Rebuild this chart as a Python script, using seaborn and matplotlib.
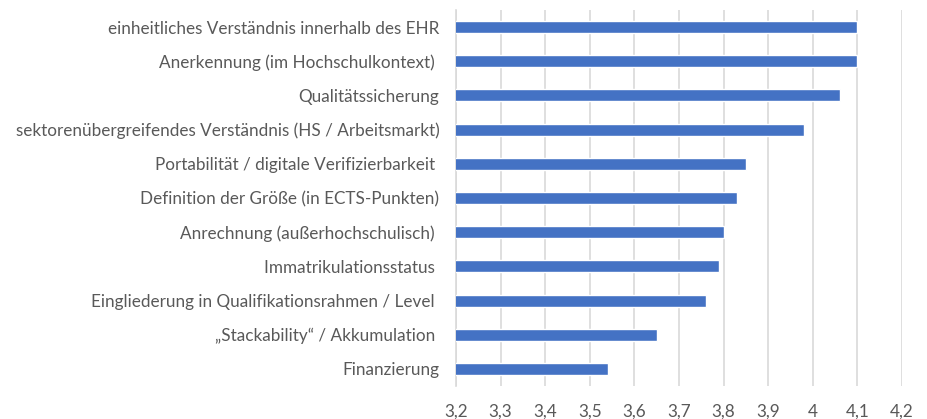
import matplotlib
matplotlib.use("Agg")
import matplotlib.pyplot as plt
import seaborn as sns
import pandas as pd

# data
kategorien = [
    "einheitliches Verständnis innerhalb des EHR",
    "Anerkennung (im Hochschulkontext) ",
    "Qualitätssicherung",
    "sektorenübergreifendes Verständnis (HS / Arbeitsmarkt)",
    "Portabilität / digitale Verifizierbarkeit ",
    "Definition der Größe (in ECTS-Punkten)",
    "Anrechnung (außerhochschulisch) ",
    "Immatrikulationsstatus ",
    "Eingliederung in Qualifikationsrahmen / Level ",
    "„Stackability“ / Akkumulation ",
    "Finanzierung",
]
werte = [4.10, 4.10, 4.06, 3.98, 3.85, 3.83, 3.80, 3.79, 3.76, 3.65, 3.54]
x_ticks = [3.2, 3.3, 3.4, 3.5, 3.6, 3.7, 3.8, 3.9, 4.0, 4.1, 4.2]
x_ticklabels = ["3,2", "3,3", "3,4", "3,5", "3,6", "3,7", "3,8", "3,9", "4", "4,1", "4,2"]

df = pd.DataFrame({"Kategorie": kategorien, "Wert": werte})

sns.set_style("white")
plt.rcParams["font.family"] = ["Lato", "DejaVu Sans"]

fig = plt.figure(figsize=(9.28, 4.19), dpi=100)
ax = fig.add_axes([0.4914, 0.0788, 0.4806, 0.8973])

sns.barplot(data=df, x="Wert", y="Kategorie", orient="h", color="#4472C4",
            saturation=1, width=0.35, ax=ax, zorder=3)

ax.set_xlim(3.2, 4.2)
ax.set_ylim(10.5, -0.5)
ax.set_xticks(x_ticks)
ax.set_xticklabels(x_ticklabels)
ax.xaxis.grid(True, color="#d9d9d9", linewidth=1.2, zorder=0)
ax.set_axisbelow(True)
for s in ["top", "right", "bottom"]:
    ax.spines[s].set_visible(False)
ax.spines["left"].set_color("#d9d9d9")
ax.spines["left"].set_linewidth(1.2)
ax.tick_params(axis="both", length=0, labelsize=12.3, colors="#595959")
ax.tick_params(axis="y", pad=12)
ax.tick_params(axis="x", pad=13)
ax.set_xlabel("")
ax.set_ylabel("")

plt.savefig("out.png", dpi=100)
